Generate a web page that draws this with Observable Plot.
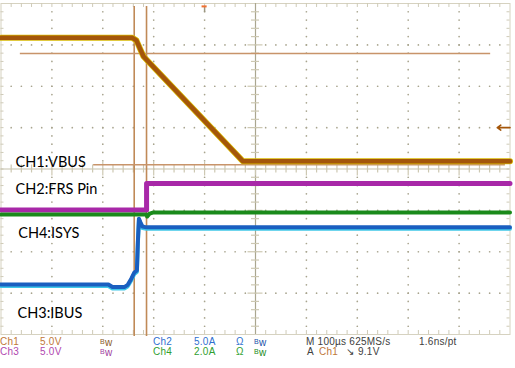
<!DOCTYPE html>
<html><head><meta charset="utf-8">
<script src="https://cdn.jsdelivr.net/npm/d3@7"></script>
<script src="https://cdn.jsdelivr.net/npm/@observablehq/plot@0.6"></script>
<style>
body{margin:0;background:#fff;}
#wrap{position:relative;width:515px;height:368px;overflow:hidden;background:#fff;}
#cap{position:absolute;left:0;top:336px;width:515px;height:32px;font-family:"Liberation Sans",Arial,sans-serif;font-size:10px;line-height:10px;letter-spacing:0.25px;}
#cap span.t{position:absolute;white-space:nowrap;}
.sb{font-size:7px;vertical-align:2px;}
</style></head><body>
<div id="wrap"><div id="chart"></div>
<div id="cap">
<span class="t" style="left:0px;top:1px;color:#c07838">Ch1</span>
<span class="t" style="left:40px;top:1px;color:#c07838">5.0V</span>
<span class="t" style="left:100px;top:1px;color:#8a5a2a"><span class="sb">B</span>w</span>
<span class="t" style="left:153px;top:1px;color:#3070d0">Ch2</span>
<span class="t" style="left:194px;top:1px;color:#3070d0">5.0A</span>
<span class="t" style="left:236px;top:1px;color:#3070d0">Ω</span>
<span class="t" style="left:254px;top:1px;color:#2050a8"><span class="sb">B</span>w</span>
<span class="t" style="left:306px;top:1px;color:#404040">M 100µs 625MS/s</span>
<span class="t" style="left:419px;top:1px;color:#404040">1.6ns/pt</span>
<span class="t" style="left:0px;top:11px;color:#b048b0">Ch3</span>
<span class="t" style="left:40px;top:11px;color:#b048b0">5.0V</span>
<span class="t" style="left:100px;top:11px;color:#a040a0"><span class="sb">B</span>w</span>
<span class="t" style="left:153px;top:11px;color:#30a030">Ch4</span>
<span class="t" style="left:194px;top:11px;color:#30a030">2.0A</span>
<span class="t" style="left:236px;top:11px;color:#30a030">Ω</span>
<span class="t" style="left:254px;top:11px;color:#208a20"><span class="sb">B</span>w</span>
<span class="t" style="left:307px;top:11px;color:#404040">A</span>
<span class="t" style="left:319px;top:11px;color:#c07838">Ch1</span>
<span class="t" style="left:346px;top:11px;color:#404040">↘</span>
<span class="t" style="left:358px;top:11px;color:#404040">9.1V</span>
</div>
</div>
<script>
// time in µs (100 µs/div), levels in screen divisions
const vbusTime = [0, 258, 266, 272, 280, 475, 1000];
const vbusLevel = [3.17, 3.17, 3.11, 2.94, 2.72, 0.19, 0.19];

const frsTime = [0, 286, 286, 1000];
const frsLevel = [-0.99, -0.99, -0.35, -0.35];

const isysTime = [0, 286, 287, 292, 300, 1000];
const isysLevel = [-1.10, -1.10, -1.15, -1.08, -1.05, -1.05];

const ibusTime = [0, 211, 219, 243, 249, 256, 262, 267, 269, 271, 274, 278, 286, 1000];
const ibusLevel = [-2.79, -2.79, -2.85, -2.85, -2.80, -2.65, -2.50, -2.45, -1.73, -1.20, -1.29, -1.39, -1.41, -1.41];

const cursorTimes = [261.7, 285.9];
const cursorLevels = [2.79, 0.10];
const cursorSpans = [[38, 962], [182, 991]];
const triggerTime = 400;
const triggerLevel = 1.0;

const labelText = ["CH1:VBUS", "CH2:FRS Pin", "CH4:ISYS", "CH3:IBUS"];
const labelTime = [28.5, 28.5, 33.8, 32.4];
const labelLevel = [0.16, -0.48, -1.55, -3.49];

const zip = (ts, vs) => ts.map((t, i) => ({t, v: vs[i]}));
const vbus = zip(vbusTime, vbusLevel);
const frs = zip(frsTime, frsLevel);
const isys = zip(isysTime, isysLevel);
const ibus = zip(ibusTime, ibusLevel);
const labels = labelText.map((s, i) => ({s, t: labelTime[i], v: labelLevel[i]}));
const hcur = cursorLevels.map((v, i) => ({v, t1: cursorSpans[i][0], t2: cursorSpans[i][1]}));

// graticule
const gridDots = [];
for (let k = 1; k <= 9; k++) if (k !== 5) for (let m = 1; m < 40; m++) gridDots.push({t: k * 100, v: -4 + m * 0.2});
for (let j = -3; j <= 3; j++) if (j !== 0) for (let n = 1; n < 50; n++) gridDots.push({t: n * 20, v: j});
const vTicks = d3.range(1, 40).map(m => ({v: -4 + m * 0.2, major: m % 5 === 0}));
const hTicks = d3.range(1, 50).map(n => ({t: n * 20, major: n % 5 === 0}));
const tpx = 1000 / 509; // µs per px
const vpx = 8 / 331;    // div per px

const gridCol = "#a8a48e";
const axisCol = "#c4c0aa";
const brown = "#a4560a";

const chart = Plot.plot({
  width: 515, height: 336,
  marginLeft: 0.5, marginRight: 5.5, marginTop: 3, marginBottom: 2,
  x: {domain: [0, 1000], axis: null},
  y: {domain: [-4, 4], axis: null},
  style: {background: "#fff", overflow: "visible"},
  marks: [
    Plot.frame({stroke: "#d6d2c0"}),
    Plot.dot(gridDots, {x: "t", y: "v", r: 0.85, fill: gridCol, stroke: null}),
    // border ticks
    Plot.ruleY(vTicks, {y: "v", x1: 0, x2: 3 * tpx, stroke: "#cfcbb8"}),
    Plot.ruleY(vTicks, {y: "v", x1: 1000 - 3 * tpx, x2: 1000, stroke: "#cfcbb8"}),
    Plot.ruleX(hTicks, {x: "t", y1: -4, y2: -4 + 4 * vpx, stroke: "#cfcbb8"}),
    Plot.ruleX(hTicks, {x: "t", y1: 4, y2: 4 - 4 * vpx, stroke: "#cfcbb8"}),
    // centre axes
    Plot.ruleX([500], {stroke: "#aaa68f", strokeWidth: 1.2}),
    Plot.ruleY([0], {stroke: axisCol, strokeWidth: 1.2}),
    Plot.ruleY(vTicks, {y: "v", x1: d => 500 - (d.major ? 7.5 : 4) * tpx, x2: d => 500 + (d.major ? 7.5 : 4) * tpx, stroke: "#cdc8b2", strokeWidth: 1.2}),
    Plot.ruleX(hTicks, {x: "t", y1: d => -(d.major ? 7 : 4) * vpx, y2: d => (d.major ? 7 : 4) * vpx, stroke: "#cdc8b2", strokeWidth: 1.2}),
    // cursors
    Plot.ruleX(cursorTimes, {stroke: "#c08a58", strokeWidth: 1.6, y1: -4.05, y2: 3.93}),
    Plot.ruleY(hcur, {y: "v", x1: "t1", x2: "t2", stroke: "#c8946a", strokeWidth: 1.5}),
    // trigger markers
    Plot.ruleX([triggerTime], {y1: 3.93, y2: 3.78, stroke: "#9a9680", strokeWidth: 1.5}),
    Plot.ruleY([3.93], {x1: triggerTime - 5, x2: triggerTime + 5, stroke: "#f07030", strokeWidth: 2}),
    Plot.arrow([triggerLevel], {x1: 1000, x2: 975, y1: d => d, y2: d => d, stroke: brown, strokeWidth: 1.6, headLength: 6, headAngle: 70}),
    // traces
    Plot.line(frs, {x: "t", y: "v", stroke: "#a828a8", strokeWidth: 5}),
    Plot.line(isys, {x: "t", y: "v", stroke: "#1a8a1a", strokeWidth: 4}),
    Plot.line(ibus, {x: "t", y: "v", stroke: "#40c8e8", strokeWidth: 4, dy: 1.5}),
    Plot.line(ibus, {x: "t", y: "v", stroke: "#1a5fc0", strokeWidth: 4}),
    Plot.line(vbus, {x: "t", y: "v", stroke: "#d8b800", strokeWidth: 6}),
    Plot.line(vbus, {x: "t", y: "v", stroke: brown, strokeWidth: 4.5}),
    // labels
    Plot.text(labels, {x: "t", y: "v", text: "s", textAnchor: "start", lineAnchor: "middle", fontSize: 14.5, fontFamily: "Lato, 'Open Sans', sans-serif", fill: "#000"})
  ]
});
document.getElementById("chart").appendChild(chart);
</script>
</body></html>
